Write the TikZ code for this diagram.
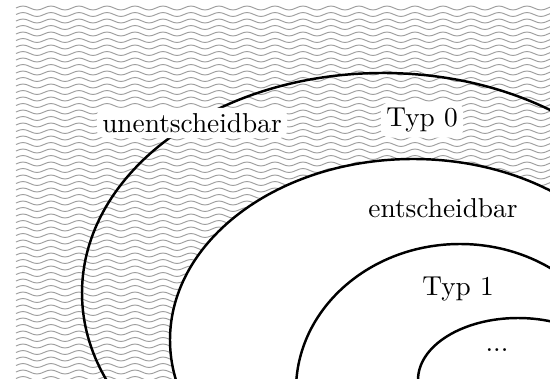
\documentclass[tikz,border=0pt]{standalone}
\begin{document}
\begin{tikzpicture}[x=0.3658pt, y=-0.3658pt,
  wave/.style={gray!75, line width=0.35pt},
  region/.style={line width=0.9pt},
  setlabel/.style={fill=white, inner sep=2pt, rounded corners=3pt},
  plainlabel/.style={inner sep=2pt}]
\useasboundingbox (0,0) rectangle (550,379);
% wavy hatching of the undecidable area
\begin{scope}
  \clip (16,4) rectangle (550,379);
  \foreach \k in {0,...,57}
    \draw[wave] (16,{8+6.5*\k})
      \foreach \p in {0,...,19} { sin ++(7,-2) cos ++(7,2) sin ++(7,2) cos ++(7,-2) };
\end{scope}
% decidable sets are left blank
\fill[white] (413,340) ellipse [x radius=243, y radius=181];
% nested language classes
\draw[region] (383,293) ellipse [x radius=301, y radius=220];
\draw[region] (413,340) ellipse [x radius=243, y radius=181];
\draw[region] (460,390) ellipse [x radius=164, y radius=146];
\draw[region] (518,380) ellipse [x radius=100, y radius=62];
% labels
\node[setlabel] (undec) at (192,123) {unentscheidbar};
\node[setlabel] (typ0) at (422,120) {Typ 0};
\node[plainlabel] (dec) at (443,208) {entscheidbar};
\node[plainlabel] (typ1) at (458,289) {Typ 1};
\node[plainlabel] (rest) at (497,350) {...};
\end{tikzpicture}
\end{document}
